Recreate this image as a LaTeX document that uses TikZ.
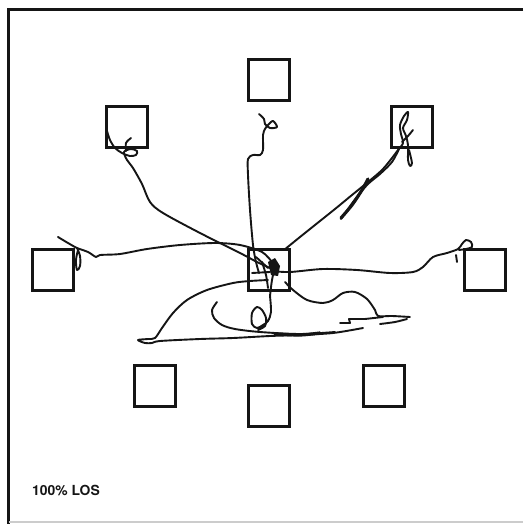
\documentclass[tikz,border=0pt]{standalone}
\usepackage{fontspec}
\newfontfamily\labfont{TeX Gyre Heros}
\begin{document}
\begin{tikzpicture}[x=1pt,y=-1pt,
  boxnode/.style={draw=ink, line width=3pt, minimum size=41pt, inner sep=0pt},
  scribble/.style={draw=ink, line width=1.9pt, line cap=round, line join=round},
  thickscr/.style={draw=ink, line width=3.2pt, line cap=round, line join=round}]
\definecolor{ink}{HTML}{151515}
\useasboundingbox (0,0) rectangle (523,524);
\fill[white] (0,0) rectangle (523,524);
% frame
\draw[ink, line width=3pt] (523,9.5) -- (8.5,9.5) -- (8.5,524);
\draw[black!20, line width=2pt] (8.5,521.5) -- (523,521.5);
% squares
\node[boxnode] (top) at (269,80.5) {};
\node[boxnode] (tl) at (127,127) {};
\node[boxnode] (tr) at (412,127) {};
\node[boxnode] (lft) at (53,270) {};
\node[boxnode] (ctr) at (269,270) {};
\node[boxnode] (rgt) at (485,270) {};
\node[boxnode] (bl) at (155,385.5) {};
\node[boxnode] (bc) at (269,406) {};
\node[boxnode] (br) at (384,385.5) {};
% label
\node[font=\labfont\bfseries\fontsize{13.9}{16}\selectfont, text=ink, inner sep=0pt] (los) at (66,490) {100\% LOS};
% trace to top-left
\draw[scribble] plot[smooth, tension=0.5] coordinates {(107,131) (110,140) (115,148) (122,153) (130,156) (136,155) (137,151) (131,149) (124,152) (127,160) (133,168) (142,184) (150,202) (163,213) (200,233) (240,253) (257,262) (270,268)};
\draw[scribble] plot[smooth, tension=0.5] coordinates {(126,151) (126,143) (131,138)};
% trace to top
\draw[scribble] plot[smooth, tension=0.5] coordinates {(259,114) (264,119) (265,124) (270,128) (277,127) (273,121) (268,125) (265,129) (263,135) (263,150) (260,155) (253,155) (248,159) (248,175) (250,210) (253,245) (256,262) (259,273)};
% trace to top-right
\draw[scribble] plot[smooth, tension=0.5] coordinates {(284,250) (300,237) (315,225) (335,209) (352,195) (368,182) (382,170) (392,158) (398,150) (403,143) (401,134) (400,125) (404,116) (408,112) (407,120) (403,128) (406,136) (408,145) (408,160) (410,166) (412,163) (409,150)};
\draw[scribble] plot[smooth, tension=0.5] coordinates {(399,149) (392,162) (380,174) (368,184) (356,198) (346,212) (341,219)};
\draw[thickscr] plot[smooth, tension=0.5] coordinates {(341,218) (352,205) (362,190) (368,179)};
\draw[scribble] plot[smooth, tension=0.5] coordinates {(413,130) (408,136) (402,142)};
% trace to left
\draw[scribble] plot[smooth, tension=0.5] coordinates {(58,237) (68,243) (77,248) (88,252) (96,257) (100,255) (120,254) (147,249) (180,245) (215,243) (240,245) (262,252) (272,262)};
\draw[scribble] plot[smooth, tension=0.6] coordinates {(77,248) (80,256) (80,266) (77,270) (76,260) (78,250)};
% trace to right
\draw[scribble] plot[smooth, tension=0.5] coordinates {(272,271) (290,272) (323,269) (357,270) (390,273) (413,272) (423,267) (433,257) (447,253) (458,249) (462,244) (466,240) (471,242) (472,247) (466,249) (459,250)};
\draw[scribble] (456,255) -- (457,262);
% centre tangle
\fill[ink] (268,262) -- (275,258) -- (280,266) -- (278,276) -- (271,275) -- cycle;
\draw[scribble] (252,273) -- (270,272);
\draw[scribble] (256,257) -- (268,268);
\draw[scribble] plot[smooth, tension=0.5] coordinates {(262,262) (266,275) (268,288)};
\draw[scribble] plot[smooth, tension=0.5] coordinates {(276,262) (272,280) (270,296)};
% bottom loops
\draw[scribble] plot[smooth, tension=0.5] coordinates {(268,280) (250,281) (233,283) (207,290) (187,300) (173,313) (162,328) (155,338) (148,339) (138,340) (145,343) (152,343) (160,341) (200,339) (233,338) (270,336) (300,335) (333,333) (363,328)};
\draw[scribble] plot[smooth, tension=0.5] coordinates {(217,302) (212,310) (214,318) (222,325) (235,329) (260,332) (300,334) (335,332)};
\draw[thickscr] plot[smooth, tension=0.5] coordinates {(275,334) (300,335) (320,333)};
\draw[scribble] plot[smooth, tension=0.5] coordinates {(270,296) (271,312) (268,321) (263,325) (257,328) (252,324) (252,313) (257,307) (262,310) (266,318) (265,326) (258,330)};
\draw[scribble] plot[smooth, tension=0.5] coordinates {(285,282) (293,290) (307,300) (323,303) (333,300) (343,293) (355,292) (367,299) (375,310) (378,316) (392,316) (410,317)};
\draw[scribble] (340,323) -- (350,323) -- (349,319) -- (365,319) -- (383,317);
\draw[scribble] plot[smooth, tension=0.5] coordinates {(380,324) (395,322) (407,319)};
\end{tikzpicture}
\end{document}
